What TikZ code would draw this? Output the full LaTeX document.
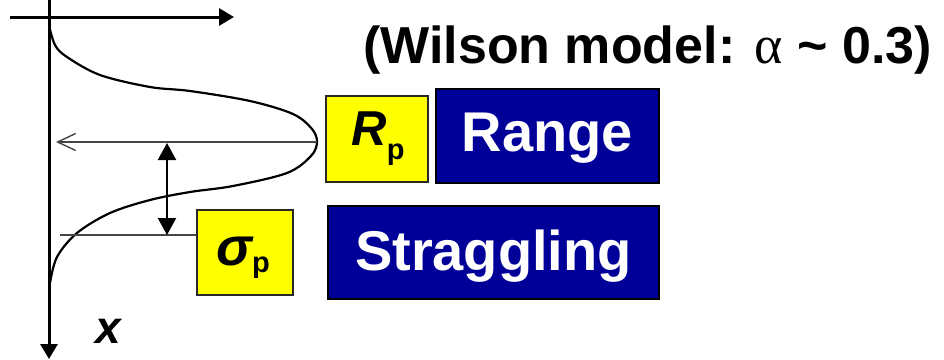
\documentclass[tikz,border=0pt]{standalone}
\usepackage{fontspec}
\setmainfont{Liberation Sans}
\newfontfamily\greekserif{Liberation Serif}
\usetikzlibrary{arrows.meta}
\definecolor{navybox}{RGB}{0,0,153}
\definecolor{yellowbox}{RGB}{255,255,0}
\definecolor{thingray}{RGB}{70,70,70}
\definecolor{boxedge}{RGB}{40,40,40}
\tikzset{
  axisline/.style={line width=3pt, -{Triangle[length=15pt,width=17pt]}},
  yellowlabel/.style={draw=boxedge, line width=2pt, fill=yellowbox, inner sep=0pt, anchor=north west},
  navylabel/.style={draw=black, line width=2pt, fill=navybox, text=white, inner sep=0pt, anchor=north west,
     font=\fontsize{56}{56}\selectfont\bfseries},
  guide/.style={draw=thingray, line width=1.4pt},
}
\begin{document}
\begin{tikzpicture}[x=1pt,y=-1pt]
\useasboundingbox (0,0) rectangle (944,359);
% axes
\coordinate (vtop) at (49,0);
\coordinate (vbot) at (49,359);
\coordinate (hleft) at (10,17);
\coordinate (hright) at (234,17);
\draw[axisline] (vtop) -- (vbot);
\draw[axisline] (hleft) -- (hright);
% profile curve
\draw[line width=2.2pt] plot[smooth, tension=0.55] coordinates {
 (49,25) (55,45) (67,57) (100,75) (150,87) (190,91) (250,101) (293,114) (312,129) (317,142)
 (311,156) (287,173) (233,186) (190,192) (150,200) (110,213) (77,233) (57,257) (50,283)};
% boxes
\node[yellowlabel, minimum width=102pt, minimum height=86pt] (rp) at (325,95) {};
\node at ([xshift=1pt]rp.center) {\fontsize{49}{49}\selectfont\bfseries\itshape R\raisebox{-14pt}{\fontsize{29}{29}\selectfont\upshape p}};
\node[navylabel, minimum width=223pt, minimum height=94pt] (range) at (435,88) {};
\node at ([yshift=-2pt]range.center) {\fontsize{56}{56}\selectfont\bfseries\color{white}Range};
\node[yellowlabel, minimum width=96pt, minimum height=85pt] (sig) at (196,209) {};
\node at ([xshift=-2pt,yshift=-5pt]sig.center) {\fontsize{54}{54}\selectfont\bfseries\itshape σ\raisebox{-7pt}{\fontsize{29}{29}\selectfont\upshape p}};
\node[navylabel, minimum width=331pt, minimum height=93pt] (strag) at (327,205) {};
\node at ([yshift=-4pt]strag.center) {\fontsize{56}{56}\selectfont\bfseries\color{white}Straggling};
% guide lines
\coordinate (peak) at (317,142);
\coordinate (peakend) at (56,142);
\draw[guide, -{Straight Barb[length=18pt,width=17pt,line width=1.4pt]}] (peak) -- (peakend);
\coordinate (sigend) at (60,235);
\draw[guide] (sig.west |- sigend) -- (sigend);
\coordinate (da) at (167,143);
\coordinate (db) at (167,235);
\draw[line width=2.2pt, {Triangle[length=17pt,width=18pt]}-{Triangle[length=17pt,width=18pt]}] (da) -- (db);
% labels
\node[anchor=base west, inner sep=0pt] (title) at (363,63) {\fontsize{52}{52}\selectfont\bfseries (Wilson model: {\greekserif\fontsize{54}{54}\mdseries α} \char`\~{} 0.3)};
\node[anchor=base west, inner sep=0pt] (xlab) at (95,343) {\fontsize{46}{46}\selectfont\bfseries\itshape x};
\end{tikzpicture}
\end{document}
